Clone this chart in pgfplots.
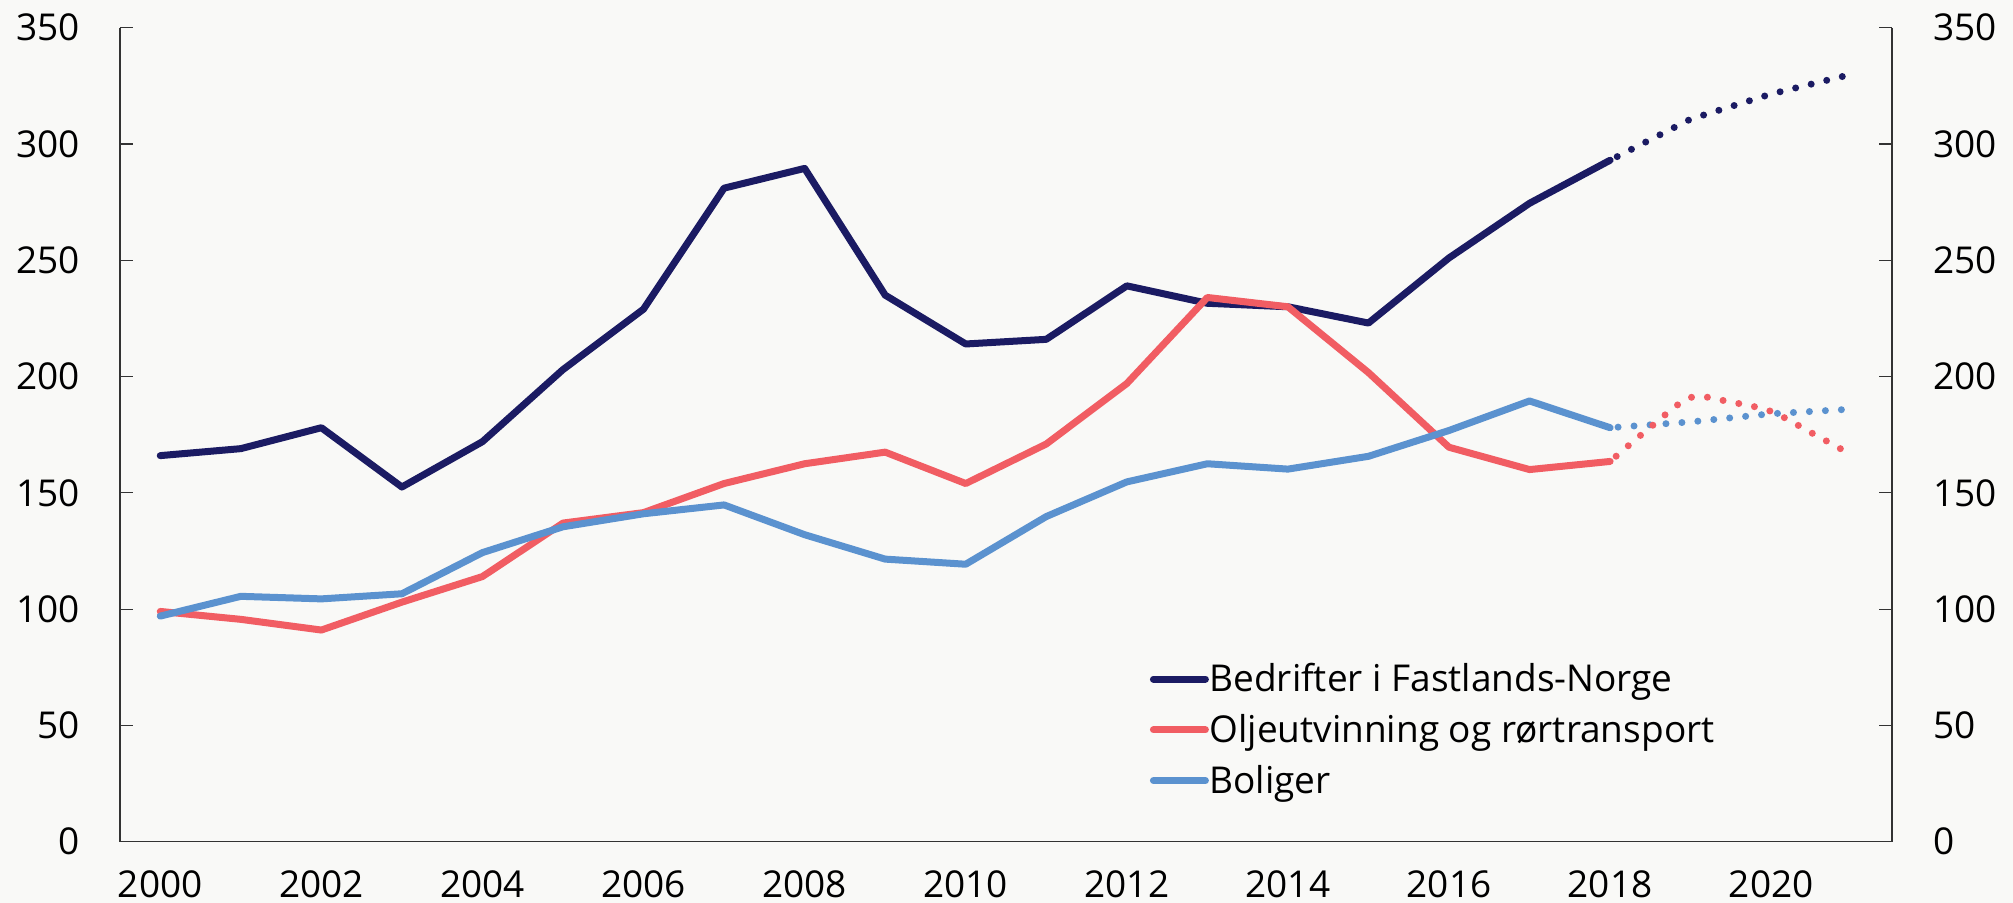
\documentclass[border=0pt]{standalone}
\usepackage{fontspec}
\setmainfont{Open Sans}
\usepackage{pgfplots}
\pgfplotsset{compat=1.18}
\definecolor{cNavy}{HTML}{1B1B63}
\definecolor{cRed}{HTML}{F15D63}
\definecolor{cBlue}{HTML}{5B92CF}
\definecolor{bg}{HTML}{F9F9F7}
\definecolor{axc}{HTML}{333333}
\begin{document}
\begin{tikzpicture}
\fill[bg] (-60pt,-30.65pt) rectangle (946.5pt,420.85pt);
\pgfplotsset{common/.style={
  scale only axis, width=886pt, height=407pt,
  xmin=1999.5, xmax=2021.5, ymin=0, ymax=350,
  ytick={0,50,...,350},
  xtick={2000,2002,...,2020},
  xticklabels={2000,2002,2004,2006,2008,2010,2012,2014,2016,2018,2020},
  font=\fontsize{18.5}{22}\selectfont,
  /pgf/number format/assume math mode=true,
  axis line style={draw=axc, line width=0.6pt},
  tick align=inside,
  major tick length=6.5pt,
  ytick style={draw=axc, line width=0.6pt},
  xtick style={draw=none},
  clip=false,
}}
\begin{axis}[common,
  axis x line*=bottom, axis y line*=left,
  yticklabel style={anchor=east, inner sep=0pt, xshift=-20pt},
  xticklabel style={anchor=north, inner sep=0pt, yshift=-14.5pt},
  legend style={draw=none, fill=none, at={(0.581,0.2195)}, anchor=north west,
    inner sep=0pt, row sep=9.8pt,
    nodes={inner sep=0pt, font=\fontsize{18.5}{22}\selectfont},
    /tikz/every odd column/.append style={column sep=0.3pt}},
  legend cell align=left,
  legend image code/.code={\draw[#1, line cap=round] (0pt,0pt) -- (26pt,0pt);},
  every axis plot/.append style={line width=3.5pt, line cap=round, line join=round},
]
\addplot[cNavy] coordinates {
(2000,166) (2001,169) (2002,178) (2003,152.5) (2004,172) (2005,203) (2006,229)
(2007,281) (2008,289.5) (2009,235) (2010,214) (2011,216) (2012,239) (2013,231.5)
(2014,230) (2015,223) (2016,251) (2017,274.5) (2018,293)};
\addlegendentry{Bedrifter i Fastlands-Norge}
\addplot[cRed] coordinates {
(2000,99) (2001,95.6) (2002,91) (2003,103) (2004,114) (2005,137) (2006,141.5)
(2007,154) (2008,162.5) (2009,167.5) (2010,154) (2011,171) (2012,197) (2013,234)
(2014,230) (2015,201.7) (2016,169.6) (2017,160) (2018,163.5)};
\addlegendentry{Oljeutvinning og rørtransport}
\addplot[cBlue] coordinates {
(2000,97) (2001,105.5) (2002,104.4) (2003,106.6) (2004,124.3) (2005,135.4) (2006,141)
(2007,144.8) (2008,132) (2009,121.5) (2010,119.3) (2011,139.8) (2012,154.7) (2013,162.5)
(2014,160.2) (2015,165.7) (2016,176.8) (2017,189.5) (2018,178)};
\addlegendentry{Boliger}
\addplot[cNavy, forget plot, dash pattern=on 0pt off 8pt, dash phase=4pt] coordinates {
(2018,293) (2019,310.7) (2020,321.5) (2021,330)};
\addplot[cBlue, forget plot, dash pattern=on 0pt off 8pt, dash phase=4pt] coordinates {
(2018,178) (2019,180.5) (2020,184) (2021,186)};
\addplot[cRed, forget plot, smooth, dash pattern=on 0pt off 8pt, dash phase=4pt] coordinates {
(2018,163.5) (2018.5,178.2) (2019,191) (2019.5,189) (2020,185) (2020.5,175.8) (2021,166.3)};
\end{axis}
\begin{axis}[common,
  axis x line=none, axis y line*=right,
  yticklabel style={anchor=west, inner sep=0pt, xshift=20.5pt},
]
\addplot[draw=none] coordinates {(2000,0)};
\end{axis}
\pgfresetboundingbox
\path[use as bounding box] (-60pt,-30.65pt) rectangle (946.5pt,420.85pt);
\end{tikzpicture}
\end{document}
